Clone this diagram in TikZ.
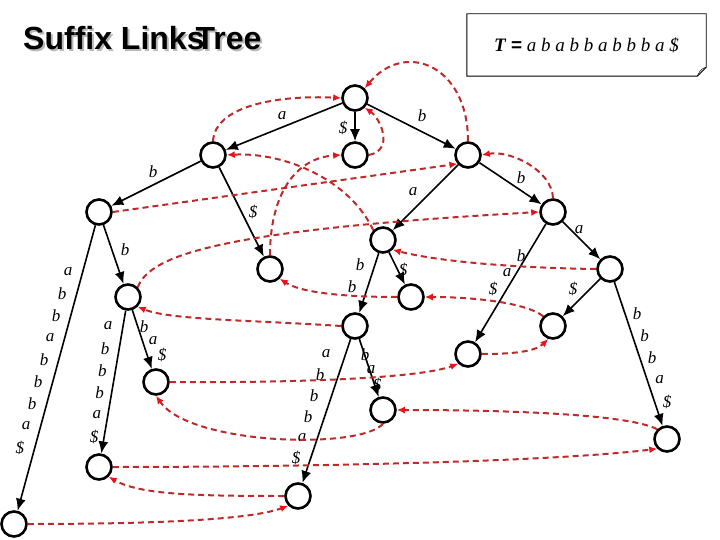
\documentclass[tikz,border=0pt]{standalone}
\usepackage{fontspec}
\setmainfont{Liberation Serif}
\newfontfamily\titlefont{Liberation Sans}
\usetikzlibrary{arrows.meta, calc}
\definecolor{linkred}{HTML}{BE2A2A}
\definecolor{tipred}{HTML}{E8141A}
\definecolor{shadegray}{HTML}{B8B8B8}

\begin{document}
\begin{tikzpicture}[
  x=1pt, y=-1pt,
  vert/.style={draw, circle, fill=white, line width=2.6pt, minimum size=25pt, inner sep=0pt},
  edge/.style={-{Latex[length=12pt, width=10pt]}, line width=1.6pt},
  link/.style={draw=linkred, line width=2pt, dash pattern=on 6pt off 4pt,
    -{Latex[length=8pt, width=7pt, color=tipred]}},
  lbl/.style={font=\fontsize{17}{17}\selectfont\itshape, inner sep=0pt},
  title/.style={font=\titlefont\bfseries\fontsize{32}{32}\selectfont, inner sep=0pt, anchor=base west}
]
\useasboundingbox (0,0) rectangle (720,540);

% title (the shade sits behind)
\node[title, text=shadegray] (titleshade) at (25,52) {Suffix Links\kern-9pt Tree};
\node[title] (titletext) at (23,50) {Suffix Links\kern-9pt Tree};

% string note
\node[inner sep=0pt, minimum width=239pt, minimum height=62pt,
  font=\fontsize{19}{19}\selectfont] (strbox) at (586.5,45)
  {\textbf{\textit{T}} {\titlefont\bfseries =} \textit{a b a b b a b b b a \$}};
\draw[line width=0.9pt] (strbox.south west) -- (strbox.north west) -- (strbox.north east)
  -- ($(strbox.south east)+(0,-9)$) -- ($(strbox.south east)+(-9,0)$) -- cycle;
\draw[line width=0.5pt] ($(strbox.south east)+(0,-9)$) .. controls ($(strbox.south east)+(-7,-7)$)
  and ($(strbox.south east)+(-7,-3)$) .. ($(strbox.south east)+(-9,0)$);

% nodes
\node[vert] (root) at (355,98) {};
\node[vert] (na) at (213,155) {};
\node[vert] (leaf10) at (355,155) {};
\node[vert] (nb) at (468,155) {};
\node[vert] (nab) at (99,212) {};
\node[vert] (nbb) at (553,212) {};
\node[vert] (nba) at (383,240) {};
\node[vert] (leaf9) at (270,269) {};
\node[vert] (nbba) at (610,269) {};
\node[vert] (nabb) at (128,297) {};
\node[vert] (leaf8) at (411,297) {};
\node[vert] (nbabb) at (355,326) {};
\node[vert] (leaf7) at (553,326) {};
\node[vert] (leaf6) at (468,354) {};
\node[vert] (leaf5) at (156,382) {};
\node[vert] (leaf4) at (383,410) {};
\node[vert] (leaf3) at (667,439) {};
\node[vert] (leaf2) at (99,467) {};
\node[vert] (leaf1) at (298,496) {};
\node[vert] (leaf0) at (14,524) {};

% tree edges
\draw[edge] (root) -- (na);
\draw[edge] (root) -- (leaf10);
\draw[edge] (root) -- (nb);
\draw[edge] (na) -- (nab);
\draw[edge] (na) -- (leaf9);
\draw[edge] (nb) -- (nba);
\draw[edge] (nb) -- (nbb);
\draw[edge] (nab) -- (leaf0);
\draw[edge] (nab) -- (nabb);
\draw[edge] (nabb) -- (leaf2);
\draw[edge] (nabb) -- (leaf5);
\draw[edge] (nba) -- (nbabb);
\draw[edge] (nba) -- (leaf8);
\draw[edge] (nbabb) -- (leaf1);
\draw[edge] (nbabb) -- (leaf4);
\draw[edge] (nbb) -- (nbba);
\draw[edge] (nbb) -- (leaf6);
\draw[edge] (nbba) -- (leaf7);
\draw[edge] (nbba) -- (leaf3);

% edge labels
\node[lbl] (la) at (282,116) {a};
\node[lbl] (ld) at (343,128) {\$};
\node[lbl] (lb) at (422,116) {b};
\node[lbl] (lab) at (153,172) {b};
\node[lbl] (lad) at (253,212) {\$};
\node[lbl] (lba) at (413,192) {a};
\node[lbl] (lbb) at (521,178) {b};
\node[lbl] (labb) at (125,250) {b};
\node[lbl] (lbba) at (579,230) {a};
\node[lbl] (lbad) at (403,270) {\$};
\node[lbl] (lbbad) at (573,289) {\$};
\foreach \ch [count=\i] in {a,b,b,a,b,b,b,a,\$}
  \node[lbl] (lz-\i) at ($(68,272)!{(\i-1)/8}!(20,448)$) {\ch};
\foreach \ch [count=\i] in {a,b,b,b,a,\$}
  \node[lbl] (ly-\i) at ($(108,326)!{(\i-1)/5}!(94,437)$) {\ch};
\foreach \ch [count=\i] in {b,a,\$}
  \node[lbl] (lx-\i) at ($(144,327)!{(\i-1)/2}!(162,355)$) {\ch};
\foreach \ch [count=\i] in {b,b}
  \node[lbl] (lw-\i) at ($(360,265)!{\i-1}!(352,287)$) {\ch};
\foreach \ch [count=\i] in {a,b,b,b,a,\$}
  \node[lbl] (lv-\i) at ($(326,354)!{(\i-1)/5}!(296,458)$) {\ch};
\foreach \ch [count=\i] in {b,a,\$}
  \node[lbl] (lu-\i) at ($(365,355)!{(\i-1)/2}!(377,385)$) {\ch};
\foreach \ch [count=\i] in {b,a,\$}
  \node[lbl] (lt-\i) at ($(521,256)!{(\i-1)/2}!(493,289)$) {\ch};
\foreach \ch [count=\i] in {b,b,b,a,\$}
  \node[lbl] (ls-\i) at ($(637,314)!{(\i-1)/4}!(667,402)$) {\ch};

% suffix links
\draw[link] (na.north) .. controls (215,105) and (280,95) .. (root.west);
\draw[link] (nb.north) .. controls (468,65) and (405,40) .. (root.north east);
\draw[link] (leaf10.east) .. controls (395,150) and (380,118) .. (root.south east);
\draw[link] (nbb.north) .. controls (552,170) and (510,150) .. (nb.east);
\draw[link] (nab.east) -- (nb.-140);
\draw[link] (nba.north west) .. controls (350,180) and (285,152) .. (na.east);
\draw[link] (leaf9.north) .. controls (270,195) and (295,158) .. (leaf10.west);
\draw[link] (nabb.north east) .. controls (150,255) and (220,230) .. (nbb.west);
\draw[link] (nbabb.west) .. controls (250,320) and (170,320) .. (nabb.south east);
\draw[link] (nbba.west) .. controls (520,268) and (440,262) .. (nba.south east);
\draw[link] (leaf0.east) .. controls (150,524) and (250,520) .. (leaf1.south west);
\draw[link] (leaf1.west) .. controls (200,496) and (140,495) .. (leaf2.south east);
\draw[link] (leaf2.east) .. controls (300,467) and (550,462) .. (leaf3.south west);
\draw[link] (leaf3.north west) .. controls (630,415) and (520,410) .. (leaf4.east);
\draw[link] (leaf4.south) .. controls (360,450) and (190,445) .. (leaf5.south);
\draw[link] (leaf5.east) .. controls (300,383) and (420,378) .. (leaf6.south west);
\draw[link] (leaf6.east) .. controls (510,354) and (535,352) .. (leaf7.-110);
\draw[link] (leaf7.north west) .. controls (525,302) and (470,297) .. (leaf8.east);
\draw[link] (leaf8.west) .. controls (340,297) and (300,292) .. (leaf9.south east);
\end{tikzpicture}
\end{document}
